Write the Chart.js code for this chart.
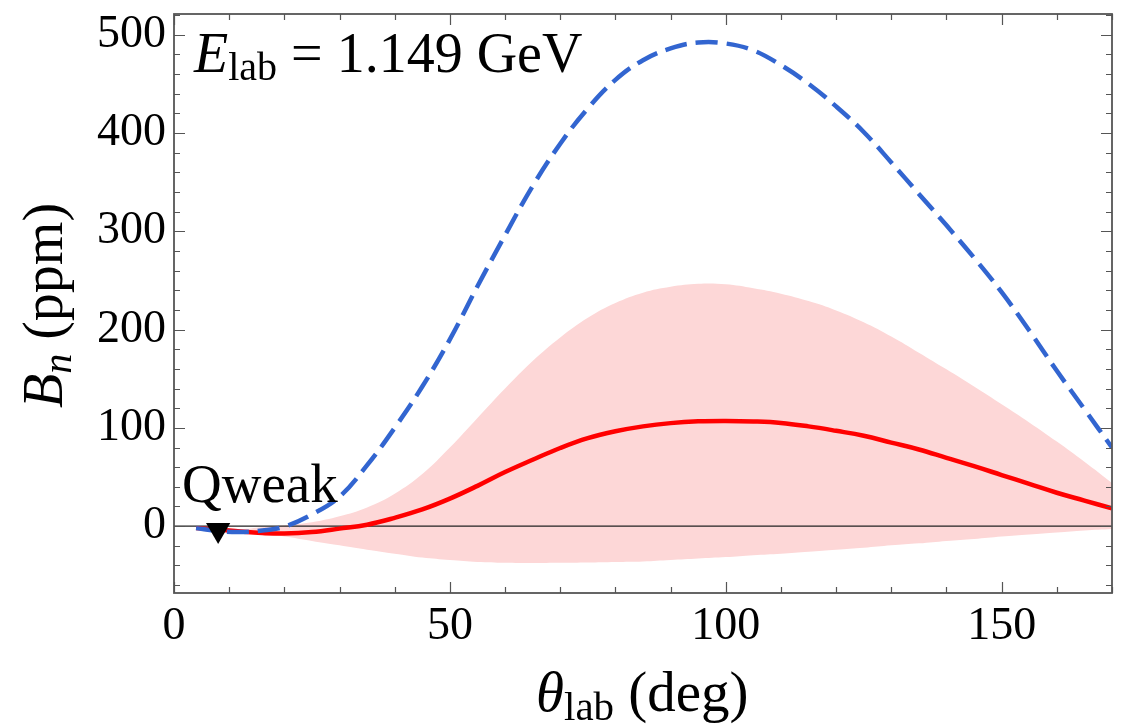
<!DOCTYPE html>
<html>
<head>
<meta charset="utf-8">
<script src="https://cdn.jsdelivr.net/npm/chart.js@4.4.0/dist/chart.umd.min.js"></script>
<style>
  html, body { margin: 0; padding: 0; background: #fff; }
</style>
</head>
<body>
<canvas id="myChart" width="1126" height="726"></canvas>
<script>
// theta_lab in degrees
const theta = [4, 8, 12, 16, 20, 25, 30, 35, 40, 45, 50, 55, 60, 65, 70, 75, 80, 85,
  90, 95, 100, 105, 110, 115, 120, 125, 130, 135, 140, 145, 150, 155, 160, 165, 170];

// B_n (ppm), dashed blue curve
const bnDashed = [-2, -5, -6, -4.5, -0.5, 12, 30, 62, 100, 142, 190, 244, 296, 346, 389, 425, 454, 474,
  486, 492, 491, 484, 469, 450, 427, 401, 370, 338, 306, 273, 238, 199, 158, 119, 80];

// B_n (ppm), solid red curve
const bnSolid = [-2, -3.5, -5.5, -7, -7.5, -6, -2.5, 1.5, 8.5, 17, 28, 41, 55, 67.5, 79.5, 89.5, 96.5, 101.5,
  104.8, 106.6, 107, 106.5, 105, 101.5, 97, 92, 85, 78, 69.5, 61, 52, 43, 34, 26, 18];

// uncertainty band around the red curve
const bandUpper = [-2, -3, -3, -1, 1, 4, 10, 19, 33, 53, 80, 110, 140, 168, 192, 212, 227, 237.5,
  243.5, 246.5, 246, 242, 236.5, 229, 219.5, 207.5, 193, 176.5, 159.5, 142, 124, 105.5, 86, 65.5, 44];
const bandLower = [-2, -4, -6, -8, -10.5, -15, -19.5, -24, -28, -32, -34.5, -36.5, -37.3, -37.5, -37.3, -37, -36.5, -36,
  -34.5, -33, -31.5, -29.5, -28, -26, -24, -22, -19.5, -17.5, -15, -13, -10.5, -8.5, -6.5, -4.5, -3];

// Qweak kinematics marker
const qweakX = [8];
const qweakY = [-4];

const xTicks = [0, 50, 100, 150];
const yTicks = [0, 100, 200, 300, 400, 500];

const pts = (ys) => theta.map((t, i) => ({x: t, y: ys[i]}));

const serif = "'Liberation Serif', 'Times New Roman', serif";

// draws a run of text pieces (with subscripts) starting at x, baseline y
function drawPieces(ctx, pieces, x, y) {
  let cx = x;
  pieces.forEach(p => {
    ctx.font = p.font;
    ctx.fillText(p.text, cx, y + (p.dy || 0));
    cx += ctx.measureText(p.text).width;
  });
  return cx - x;
}

const frameTicks = {
  id: 'frameTicks',
  afterDraw(chart) {
    const {ctx, chartArea: a, scales} = chart;
    const x = scales.x, y = scales.y;
    ctx.save();
    ctx.strokeStyle = '#555';
    ctx.lineWidth = 1.2;
    ctx.beginPath();
    for (let v = 0; v <= 170; v += 10) {
      const px = Math.round(x.getPixelForValue(v)) + 0.5;
      const len = v % 50 === 0 ? 11 : 6;
      ctx.moveTo(px, a.bottom); ctx.lineTo(px, a.bottom - len);
      ctx.moveTo(px, a.top); ctx.lineTo(px, a.top + len);
    }
    for (let v = -60; v <= 520; v += 20) {
      const py = Math.round(y.getPixelForValue(v)) + 0.5;
      const len = v % 100 === 0 ? 11 : 6;
      ctx.moveTo(a.left, py); ctx.lineTo(a.left + len, py);
      ctx.moveTo(a.right, py); ctx.lineTo(a.right - len, py);
    }
    ctx.stroke();
    ctx.lineWidth = 1.8;
    ctx.strokeRect(a.left, a.top, a.right - a.left, a.bottom - a.top);

    ctx.fillStyle = '#000';
    ctx.textBaseline = 'alphabetic';
    ctx.textAlign = 'left';

    // energy label
    drawPieces(ctx, [
      {text: 'E', font: 'italic 56px ' + serif},
      {text: 'lab', font: '40px ' + serif, dy: 8},
      {text: ' = 1.149 GeV', font: '56px ' + serif}
    ], 194, 72);

    // Qweak label
    ctx.font = '55px ' + serif;
    ctx.fillText('Qweak', 182, 502);

    // x title
    drawPieces(ctx, [
      {text: 'θ', font: 'italic 57px ' + serif},
      {text: 'lab', font: '41px ' + serif, dy: 9},
      {text: ' (deg)', font: '57px ' + serif}
    ], 536, 711);

    // y title
    ctx.save();
    ctx.translate(62, 408);
    ctx.rotate(-Math.PI / 2);
    drawPieces(ctx, [
      {text: 'B', font: 'italic 56px ' + serif},
      {text: 'n', font: 'italic 40px ' + serif, dy: 9},
      {text: ' (ppm)', font: '56px ' + serif}
    ], 0, 0);
    ctx.restore();
    ctx.restore();
  }
};

const ctx = document.getElementById('myChart').getContext('2d');

const data = {
  datasets: [
    {
      label: 'dashed',
      data: pts(bnDashed),
      borderColor: '#3265d0',
      borderWidth: 4.5,
      borderDash: [22, 9],
      pointRadius: 0,
      tension: 0.4,
      fill: false,
      order: 0
    },
    {
      label: 'solid',
      data: pts(bnSolid),
      borderColor: '#ff0000',
      borderWidth: 4.5,
      pointRadius: 0,
      tension: 0.4,
      fill: false,
      order: 1
    },
    {
      label: 'Qweak',
      type: 'scatter',
      data: qweakX.map((v, i) => ({x: v, y: qweakY[i]})),
      pointStyle: 'triangle',
      rotation: 180,
      pointRadius: 14,
      backgroundColor: '#000',
      borderColor: '#000',
      borderWidth: 0,
      order: -1
    },
    {
      label: 'zero',
      data: [{x: 0, y: 0}, {x: 170, y: 0}],
      borderColor: '#222',
      borderWidth: 1.2,
      pointRadius: 0,
      fill: false,
      order: 3
    },
    {
      label: 'upper',
      data: pts(bandUpper),
      borderWidth: 0,
      borderColor: 'rgba(0,0,0,0)',
      backgroundColor: '#fdd7d7',
      pointRadius: 0,
      tension: 0.4,
      fill: '+1',
      order: 4
    },
    {
      label: 'lower',
      data: pts(bandLower),
      borderWidth: 0,
      borderColor: 'rgba(0,0,0,0)',
      pointRadius: 0,
      tension: 0.4,
      fill: false,
      order: 5
    }
  ]
};

const config = {
  type: 'line',
  data: data,
  options: {
    responsive: false,
    animation: false,
    layout: {padding: {top: 12, right: 11, left: 0, bottom: 0}},
    plugins: {legend: {display: false}, tooltip: {enabled: false}},
    scales: {
      x: {
        type: 'linear',
        min: 0,
        max: 170,
        grid: {display: false, drawTicks: false},
        border: {display: false},
        ticks: {
          color: '#000',
          padding: 6,
          maxRotation: 0,
          font: {family: serif, size: 46}
        },
        afterBuildTicks: (scale) => { scale.ticks = xTicks.map(v => ({value: v})); },
        afterFit: (scale) => {
          scale.height = 133;
          scale.paddingLeft = 0;
          scale.paddingRight = 0;
        }
      },
      y: {
        type: 'linear',
        min: -68,
        max: 521,
        grid: {display: false, drawTicks: false},
        border: {display: false},
        ticks: {
          color: '#000',
          padding: 8,
          font: {family: serif, size: 46}
        },
        afterBuildTicks: (scale) => { scale.ticks = yTicks.map(v => ({value: v})); },
        afterFit: (scale) => {
          scale.width = 174;
          scale.paddingTop = 0;
          scale.paddingBottom = 0;
        }
      }
    }
  },
  plugins: [frameTicks]
};

const myChart = new Chart(ctx, config);
</script>
</body>
</html>
